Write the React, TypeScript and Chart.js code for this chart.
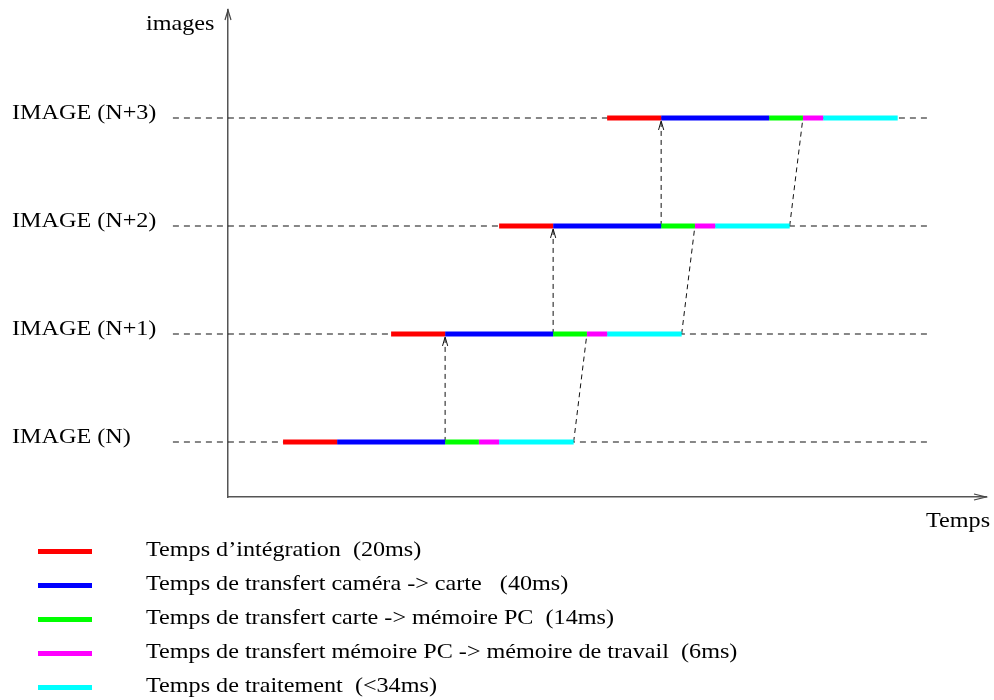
import React, { useEffect, useRef } from "react";
import { Chart, registerables } from "chart.js";

Chart.register(...registerables);

// ---- data ----
const categories = ["IMAGE (N)", "IMAGE (N+1)", "IMAGE (N+2)", "IMAGE (N+3)"];
const rowStarts = [20.4, 60.4, 100.4, 140.4]; // ms, start of integration for each image
const phaseLabels = [
  "Temps d\u2019int\u00e9gration  (20ms)",
  "Temps de transfert cam\u00e9ra -> carte   (40ms)",
  "Temps de transfert carte -> m\u00e9moire PC  (14ms)",
  "Temps de transfert m\u00e9moire PC -> m\u00e9moire de travail  (6ms)",
  "Temps de traitement  (<34ms)",
];
const phaseDurations = [20, 40, 12.5, 7.5, 27.6]; // drawn lengths (ms)
const phaseColors = ["#ff0000", "#0000ff", "#00ff00", "#ff00ff", "#00ffff"];
const yAxisTitle = "images";
const xAxisTitle = "Temps";
const guideRange = [-20.4, 258.9];
const xRange = [0, 280.7];
const yRange = [-0.51, 4.0];

const FONT = "21px 'Liberation Serif', 'Times New Roman', serif";
const STRETCH = 1.15;

const sum = (a: number[]) => a.reduce((s, v) => s + v, 0);

function drawText(ctx: CanvasRenderingContext2D, text: string, x: number, baseline: number) {
  ctx.save();
  ctx.translate(x, baseline);
  ctx.scale(STRETCH, 1);
  ctx.fillStyle = "#000";
  ctx.font = FONT;
  ctx.textAlign = "left";
  ctx.textBaseline = "alphabetic";
  ctx.fillText(text, 0, 0);
  ctx.restore();
}

function openArrow(ctx: CanvasRenderingContext2D, tx: number, ty: number, dx: number, dy: number, len: number, half: number, color: string, width: number) {
  const bx = tx - dx * len;
  const by = ty - dy * len;
  const px = -dy;
  const py = dx;
  ctx.save();
  ctx.strokeStyle = color;
  ctx.lineWidth = width;
  ctx.beginPath();
  ctx.moveTo(bx + px * half, by + py * half);
  ctx.lineTo(tx, ty);
  ctx.lineTo(bx - px * half, by - py * half);
  ctx.stroke();
  ctx.restore();
}

const decorPlugin = {
  id: "decor",
  afterDraw(chart: any) {
    const ctx = chart.ctx as CanvasRenderingContext2D;
    const xs = chart.scales.x;
    const ys = chart.scales.y;
    const area = chart.chartArea;
    openArrow(ctx, area.left, area.top, 0, -1, 10, 3, "#444", 1.2);
    openArrow(ctx, area.right, area.bottom, 1, 0, 12, 3, "#444", 1.2);
    for (let r = 0; r < categories.length - 1; r++) {
      const x = xs.getPixelForValue(rowStarts[r] + phaseDurations[0] + phaseDurations[1]);
      const y = ys.getPixelForValue(r + 1) + 3;
      openArrow(ctx, x, y, 0, -1, 9, 2.6, "#111", 1);
    }
    categories.forEach((c, r) => {
      drawText(ctx, c, 12, ys.getPixelForValue(r) + 1);
    });
    drawText(ctx, yAxisTitle, 146, 30);
    drawText(ctx, xAxisTitle, 926, 527);
  },
};

export default function App() {
  const ref = useRef<HTMLCanvasElement | null>(null);

  useEffect(() => {
    if (!ref.current) return;
    const rows = categories.map((_, i) => i);

    const barSets = phaseLabels.map((label, p) => ({
      type: "line" as const,
      label,
      data: rows.flatMap((r) => {
        const s = rowStarts[r] + sum(phaseDurations.slice(0, p));
        return [
          { x: s, y: r },
          { x: s + phaseDurations[p], y: r },
          { x: s + phaseDurations[p], y: null },
        ];
      }),
      borderColor: phaseColors[p],
      backgroundColor: phaseColors[p],
      borderWidth: 5,
      borderCapStyle: "butt" as const,
      pointRadius: 0,
      spanGaps: false,
      clip: false as any,
      order: 0,
    }));

    const guideSets = rows.map((r) => ({
      type: "line" as const,
      label: "guide " + categories[r],
      data: [
        { x: guideRange[0], y: r },
        { x: guideRange[1], y: r },
      ],
      borderColor: "#111",
      borderWidth: 1.1,
      borderDash: [6, 5],
      pointRadius: 0,
      clip: false as any,
      order: 2,
    }));

    const connectorSets: any[] = [];
    for (let r = 0; r < rows.length - 1; r++) {
      const xv = rowStarts[r] + phaseDurations[0] + phaseDurations[1];
      connectorSets.push({
        type: "line",
        label: "transfer " + r,
        data: [
          { x: xv, y: r },
          { x: xv, y: r + 1 - 0.03 },
        ],
        borderColor: "#111",
        borderWidth: 1,
        borderDash: [5, 4],
        pointRadius: 0,
        clip: false,
        order: 1,
      });
      connectorSets.push({
        type: "line",
        label: "link " + r,
        data: [
          { x: rowStarts[r] + sum(phaseDurations), y: r },
          { x: rowStarts[r + 1] + phaseDurations[0] + phaseDurations[1] + phaseDurations[2], y: r + 1 },
        ],
        borderColor: "#111",
        borderWidth: 1,
        borderDash: [5, 4],
        pointRadius: 0,
        clip: false,
        order: 1,
      });
    }

    const chart = new Chart(ref.current, {
      type: "line",
      data: { datasets: [...barSets, ...connectorSets, ...guideSets] as any },
      options: {
        responsive: false,
        animation: false,
        events: [],
        layout: { padding: { left: 0, top: 10, right: 8, bottom: 203 } },
        plugins: { legend: { display: false }, tooltip: { enabled: false }, title: { display: false } },
        scales: {
          x: {
            type: "linear",
            min: xRange[0],
            max: xRange[1],
            grid: { display: false, drawTicks: false },
            ticks: { display: false },
            border: { display: true, color: "#555", width: 1.5 },
            afterFit: (s: any) => {
              s.height = 0;
            },
          },
          y: {
            type: "linear",
            min: yRange[0],
            max: yRange[1],
            grid: { display: false, drawTicks: false },
            ticks: { display: false },
            border: { display: true, color: "#555", width: 1.5 },
            afterFit: (s: any) => {
              s.width = 228;
            },
          },
        },
      } as any,
      plugins: [decorPlugin],
    });
    return () => chart.destroy();
  }, []);

  const legendY = [551, 585, 619, 653, 687];

  return (
    <div style={{ position: "absolute", left: 0, top: 0, width: 994, height: 700, background: "#fff" }}>
      <canvas ref={ref} width={994} height={700} style={{ display: "block", width: 994, height: 700 }} />
      {phaseLabels.map((label, i) => (
        <React.Fragment key={label}>
          <div
            style={{
              position: "absolute",
              left: 38,
              top: legendY[i] - 2.5,
              width: 54,
              height: 5,
              background: phaseColors[i],
            }}
          />
          <div
            style={{
              position: "absolute",
              left: 146,
              top: legendY[i] - 12,
              font: FONT,
              lineHeight: "21px",
              whiteSpace: "pre",
              color: "#000",
              transform: `scaleX(${STRETCH})`,
              transformOrigin: "left center",
            }}
          >
            {label}
          </div>
        </React.Fragment>
      ))}
    </div>
  );
}
